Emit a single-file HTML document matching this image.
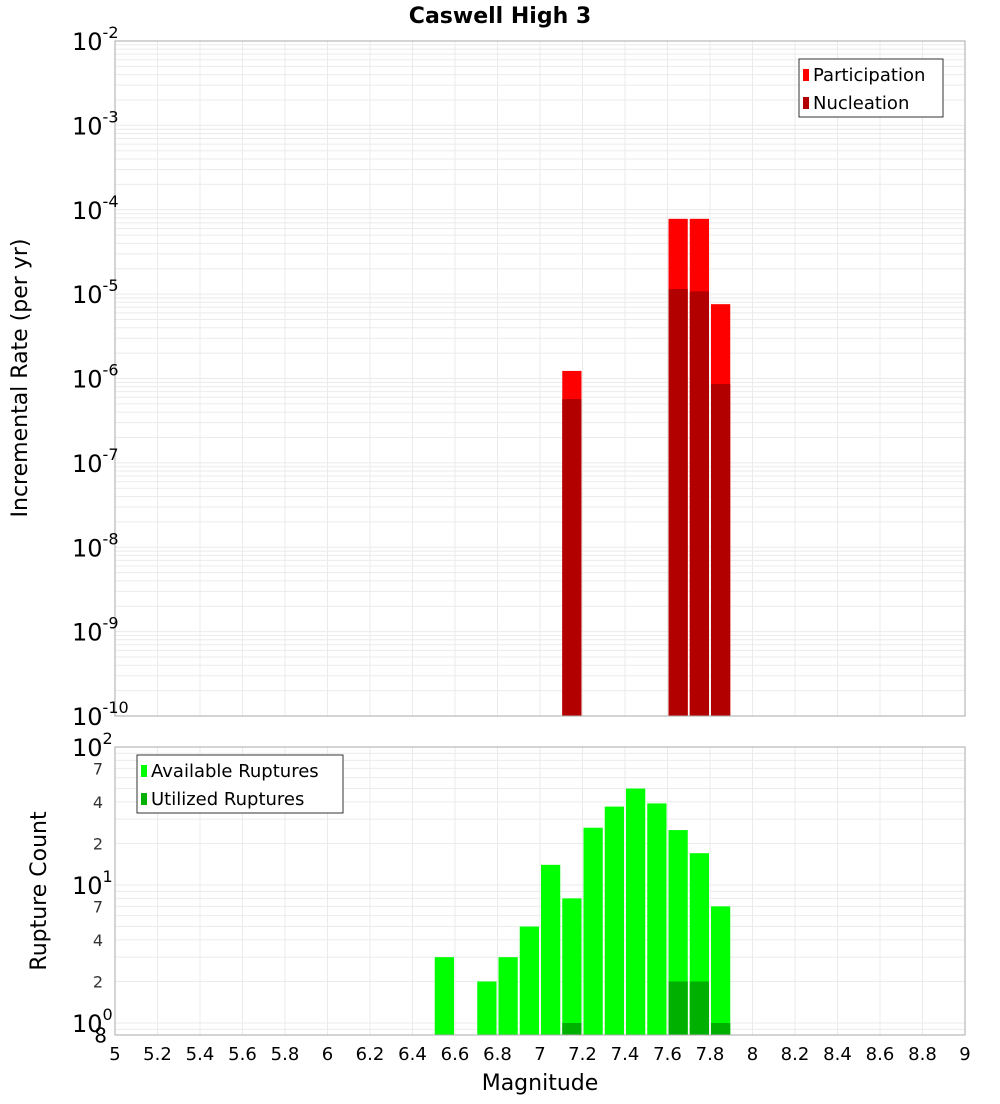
<!DOCTYPE html>
<html><head><meta charset="utf-8"><style>
body{margin:0;background:#fff;font-family:"DejaVu Sans","Liberation Sans",sans-serif;}
svg text{font-family:"DejaVu Sans","Liberation Sans",sans-serif;}
</style></head><body>
<svg id="c" width="1000" height="1100" xmlns="http://www.w3.org/2000/svg">
<text x="500" y="23" text-anchor="middle" font-size="22" font-weight="bold">Caswell High 3</text>
<g id="top"></g>
<g id="bot"></g>
<text x="540" y="1090" text-anchor="middle" font-size="22">Magnitude</text>
<text transform="translate(27,378) rotate(-90)" text-anchor="middle" font-size="22">Incremental Rate (per yr)</text>
<text transform="translate(46,891) rotate(-90)" text-anchor="middle" font-size="22">Rupture Count</text>
</svg>
<script>
const binStarts=[6.5,6.6,6.7,6.8,6.9,7.0,7.1,7.2,7.3,7.4,7.5,7.6,7.7,7.8];
const participation=[0,0,0,0,0,0,1.23e-6,0,0,0,0,7.8e-5,7.8e-5,7.6e-6];
const nucleation=[0,0,0,0,0,0,5.7e-7,0,0,0,0,1.15e-5,1.08e-5,8.6e-7];
const available=[3,0,2,3,5,14,8,26,37,50,39,25,17,7];
const utilized=[0,0,0,0,0,0,1,0,0,0,0,2,2,1];
const xTicks=[5,5.2,5.4,5.6,5.8,6,6.2,6.4,6.6,6.8,7,7.2,7.4,7.6,7.8,8,8.2,8.4,8.6,8.8,9];
const topExps=[-2,-3,-4,-5,-6,-7,-8,-9,-10];
const binW=0.1;
const NS="http://www.w3.org/2000/svg";
const L=115,R=965;
const X=v=>L+(v-5)/4*(R-L);
const T0=41,T1=716;
const YT=v=>T0+(-2-Math.log10(v))/8*(T1-T0);
const B0=747,B1=1035,DEC=138;
const YB=v=>B0+(2-Math.log10(v))*DEC;
function mk(p,tag,a,txt){const e=document.createElementNS(NS,tag);for(const k in a)e.setAttribute(k,a[k]);if(txt!==undefined)e.textContent=txt;p.appendChild(e);return e;}
const topG=document.getElementById('top'),botG=document.getElementById('bot');
function grid(g,y0,y1,ys){
  xTicks.forEach(t=>{const l=mk(g,'line',{x1:X(t),x2:X(t),y1:y0,y2:y1,stroke:'#ebebeb'});
  
  });
  ys.forEach(y=>{if(y>=y0-0.5&&y<=y1+0.5){const l=mk(g,'line',{x1:L,x2:R,y1:y,y2:y,stroke:'#ebebeb'});
  
  }});
}
let ty=[];for(let e=-10;e<-2;e++)for(let m=1;m<10;m++)ty.push(YT(m*Math.pow(10,e)));ty.push(YT(0.01));
grid(topG,T0,T1,ty);
let by=[];for(let e=-1;e<2;e++)for(let m=1;m<10;m++)by.push(YB(m*Math.pow(10,e)));by.push(YB(100));
grid(botG,B0,B1,by);
binStarts.forEach((b,i)=>{
  const x=X(b)+1,w=X(b+binW)-X(b)-2;
  if(participation[i]>0){const r=mk(topG,'rect',{x:x,y:YT(participation[i]),width:w,height:T1-YT(participation[i]),fill:'#ff0000'});
  
  }
  if(nucleation[i]>0){const r=mk(topG,'rect',{x:x,y:YT(nucleation[i]),width:w,height:T1-YT(nucleation[i]),fill:'#b20000'});
  
  }
  if(available[i]>0){const r=mk(botG,'rect',{x:x,y:YB(available[i]),width:w,height:B1-YB(available[i]),fill:'#00ff00'});
  
  }
  if(utilized[i]>0){const r=mk(botG,'rect',{x:x,y:YB(utilized[i]),width:w,height:B1-YB(utilized[i]),fill:'#00b000'});
  
  }
});
[[topG,T0,T1],[botG,B0,B1]].forEach(([g,a,b])=>{const r=mk(g,'rect',{x:L,y:a,width:R-L,height:b-a,fill:'none',stroke:'#aaa'});

});
topExps.forEach(e=>{const y=YT(Math.pow(10,e));
  const t=mk(topG,'text',{x:72,y:y+9,'font-size':24},'10');
  
  
  mk(t,'tspan',{dy:-12,'font-size':16},String(e));
});
[[100,'2'],[10,'1'],[1,'0']].forEach(([v,s])=>{const y=YB(v);
  const t=mk(botG,'text',{x:72,y:y+9,'font-size':24},'10');
  
  
  mk(t,'tspan',{dy:-12,'font-size':16},s);
});
[[70,'7'],[40,'4'],[20,'2'],[7,'7'],[4,'4'],[2,'2'],[0.8,'8']].forEach(([v,s])=>{
  const t=mk(botG,'text',{x:103,y:YB(v)+6,'font-size':16,'text-anchor':'end',fill:'#333'},s);
  if(s==='8'&&v<1){t.setAttribute('font-size','20');t.setAttribute('fill','#000');t.setAttribute('x','107');}
  
  
});
xTicks.forEach(v=>{const t=mk(botG,'text',{x:X(v),y:1060,'font-size':18,'text-anchor':'middle'},String(v));
  
  });
function legend(g,x,y,w,items){
  const r=mk(g,'rect',{x:x,y:y,width:w,height:58,fill:'#fff',stroke:'#333'});
  
  
  items.forEach(([c,l],i)=>{
    const s=mk(g,'rect',{x:x+4,y:y+10+i*28,width:6,height:12,fill:c});
    
    
    const t=mk(g,'text',{x:x+14,y:y+22+i*28,'font-size':18},l);
    
    
  });
}
legend(topG,799,59,144,[['#ff0000','Participation'],['#b20000','Nucleation']]);
legend(botG,137,755,206,[['#00ff00','Available Ruptures'],['#00b000','Utilized Ruptures']]);
</script>
</body></html>
